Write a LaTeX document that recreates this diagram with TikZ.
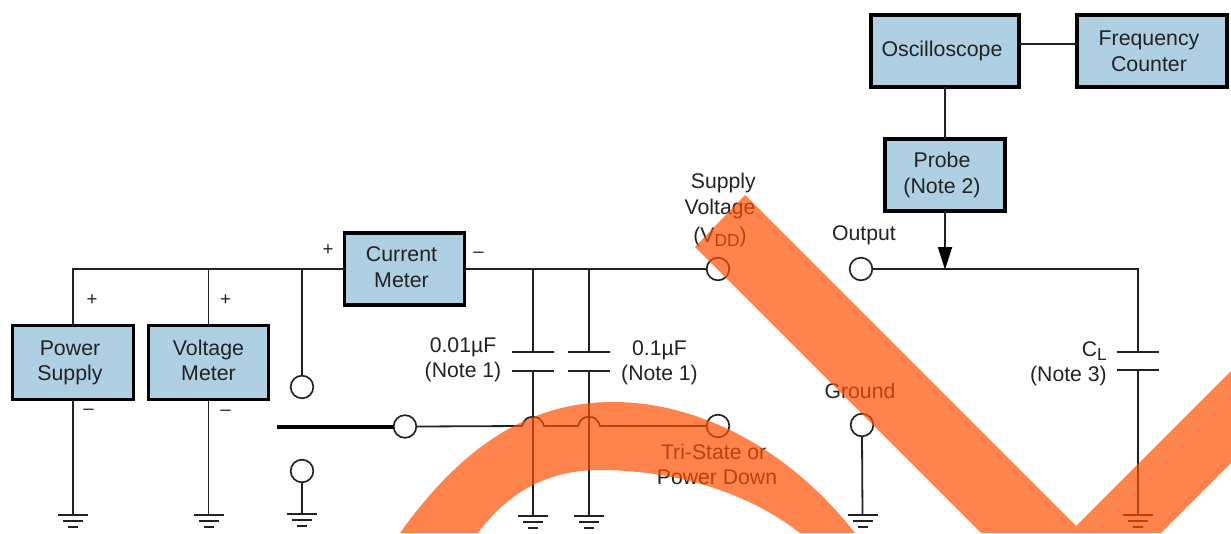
\documentclass[tikz,border=0pt]{standalone}
\usepackage{fontspec}
\setmainfont{Liberation Sans}
\usetikzlibrary{arrows.meta}
\definecolor{ink}{HTML}{222222}
\definecolor{boxblue}{HTML}{AED0E2}
\definecolor{band}{HTML}{FF4E00}
\newcommand{\lowtxt}[1]{\raisebox{-2.6pt}{\fontsize{13}{14}\selectfont #1}}
\newcommand{\nudge}{\hspace*{4.5pt}}
\newcommand{\lifted}[1]{\rule[-#1]{0pt}{#1}}
\tikzset{
  x=0.75pt,y=-0.75pt,
  wire/.style={draw=ink,line width=1.35pt},
  blockbox/.style 2 args={draw=black,line width=2.7pt,fill=boxblue,text=ink,align=center,
    inner sep=0pt,outer sep=0pt,font=\fontsize{16}{18.8}\selectfont,
    minimum width=#1*0.75pt,minimum height=#2*0.75pt},
  terminal/.style={circle,draw=ink,line width=1.25pt,fill=white,inner sep=0pt,outer sep=0pt,minimum size=17pt},
  lbl/.style={text=ink,align=center,inner sep=0pt,font=\fontsize{15.9}{18.8}\selectfont},
  sgn/.style={text=ink,inner sep=0pt,font=\fontsize{14}{14}\selectfont},
  earth/.pic={
    \draw[ink,line width=1.5pt] (-15,0) -- (15,0);
    \draw[ink,line width=1.5pt] (-10,6) -- (10,6);
    \draw[ink,line width=1.7pt] (-5,12) -- (5,12);
  },
  overlay band/.style={fill=band,opacity=0.7,draw=none}
}
\begin{document}
\begin{tikzpicture}
\useasboundingbox (0,0) rectangle (1231,533);
% blocks
\node[blockbox={147.5}{71.5}] (osc) at (945,51) {Oscilloscope\nudge};
\node[blockbox={149.5}{71.5}] (fc) at (1152,51) {Frequency\nudge\\[1pt]Counter\nudge};
\node[blockbox={119.5}{71.5}] (pb) at (945,175) {Probe\nudge\\[0.5pt](Note 2)\nudge};
\node[blockbox={120}{71.5}] (cm) at (404.5,269) {Current\nudge\\[1pt]Meter\nudge\lifted{3pt}};
\node[blockbox={121}{74}] (ps) at (73,362.5) {Power\nudge\\Supply\nudge\lifted{1.5pt}};
\node[blockbox={120}{74}] (vm) at (208.5,362.5) {Voltage\\Meter\lifted{3pt}};
% terminals
\node[terminal] (vdd) at (718,269) {};
\node[terminal] (out) at (861,269) {};
\node[terminal] (gnd) at (862,425) {};
\node[terminal] (tri) at (718,426) {};
\node[terminal] (sw) at (405,426.5) {};
\node[terminal] (up) at (302,387) {};
\node[terminal] (dn) at (302,471) {};
% ground points
\coordinate (g1) at (73,515);
\coordinate (g2) at (208.5,515);
\coordinate (g3) at (302,514);
\coordinate (g4) at (533,516);
\coordinate (g5) at (589,516);
\coordinate (g6) at (862.5,515);
\coordinate (g7) at (1138,515);
\foreach \g in {g1,g2,g3,g4,g5,g6,g7} \pic at (\g) {earth};
% capacitor points
\coordinate (c1a) at (533,352); \coordinate (c1b) at (533,371);
\coordinate (c2a) at (589,352); \coordinate (c2b) at (589,371);
\coordinate (c3a) at (1138,352); \coordinate (c3b) at (1138,370);
\coordinate (j1) at (302,269);
\coordinate (j2) at (208.5,269);
\coordinate (j3) at (533,269);
\coordinate (j4) at (589,269);
\coordinate (swend) at (277,426.5);
% wiring
\draw[wire] (cm.west) -| (ps.north);
\draw[wire] (j2) -- (vm.north);
\draw[wire] (j1) -- (up.north);
\draw[wire] (dn.south) -- (g3);
\draw[wire] (ps.south) -- (g1);
\draw[wire] (vm.south) -- (g2);
\draw[wire] (cm.east) -- (vdd.west);
\draw[wire] (j3) -- (c1a);
\draw[wire] (j4) -- (c2a);
\draw[wire] (c1b) -- (g4);
\draw[wire] (c2b) -- (g5);
\draw[wire] (out.east) -| (c3a);
\draw[wire] (c3b) -- (g7);
\draw[wire] (gnd.south) -- (g6);
\draw[wire] (osc.south) -- (pb.north);
\draw[wire] ([yshift=5.25pt]osc.east) -- ([yshift=5.25pt]fc.west);
\draw[wire,-{Triangle[length=17pt,width=10.5pt,color=black]},shorten >=-0.5pt] (pb.south) -- (pb.south |- out);
\draw[draw=black,line width=3pt] (swend) -- (sw.west);
% capacitor plates
\foreach \p in {c1a,c1b,c2a,c2b,c3a,c3b}
  \draw[wire] ([xshift=-16pt]\p) -- ([xshift=16pt]\p);
% control line with hops
\draw[wire] (sw.east) -- (522,426)
  .. controls (525,418) and (528,417) .. (533,417)
  .. controls (538,417) and (541,418) .. (544,426)
  -- (578,426)
  .. controls (581,418) and (584,417) .. (589,417)
  .. controls (594,417) and (597,418) .. (600,426)
  -- (tri.west);
% labels
\node[sgn] (s1) at (92,300) {+};
\node[sgn] (s2) at (225.5,300) {+};
\node[sgn] (s3) at (88.5,412) {–};
\node[sgn] (s4) at (225.5,413) {–};
\node[sgn] (s5) at (328,250) {+};
\node[sgn] (s6) at (478.5,255) {–};
\node[lbl] (l1) at (720,210) {\hspace*{5pt}Supply\\[1pt]Voltage\\[2pt](V\lowtxt{DD})};
\node[lbl] (l2) at (864,235) {Output};
\node[lbl] (l3) at (860,391) {Ground};
\node[lbl] (l4) at (463,360) {0.01µF\\(Note 1)};
\node[lbl] (l5) at (659.5,363) {0.1µF\\(Note 1)};
\node[lbl,anchor=east,align=right] (l6) at (1107,364) {C\lowtxt{L}\\(Note 3)};
\node[lbl] (l7) at (717,464.5) {Tri-State or\hspace*{5pt}\\Power Down};
% orange overlay
\fill[overlay band] (745,195) -- (1076,526) -- (1231,371) -- (1231,463) -- (1161,533)
  -- (981,533) -- (695,247) -- cycle;
\fill[overlay band] (400,533) .. controls (470,435) and (540,402) .. (613,402)
  .. controls (700,402) and (790,450) .. (855,533) -- (800,533)
  .. controls (745,490) and (670,470) .. (600,470)
  .. controls (550,470) and (510,490) .. (478,533) -- cycle;
\end{tikzpicture}
\end{document}
